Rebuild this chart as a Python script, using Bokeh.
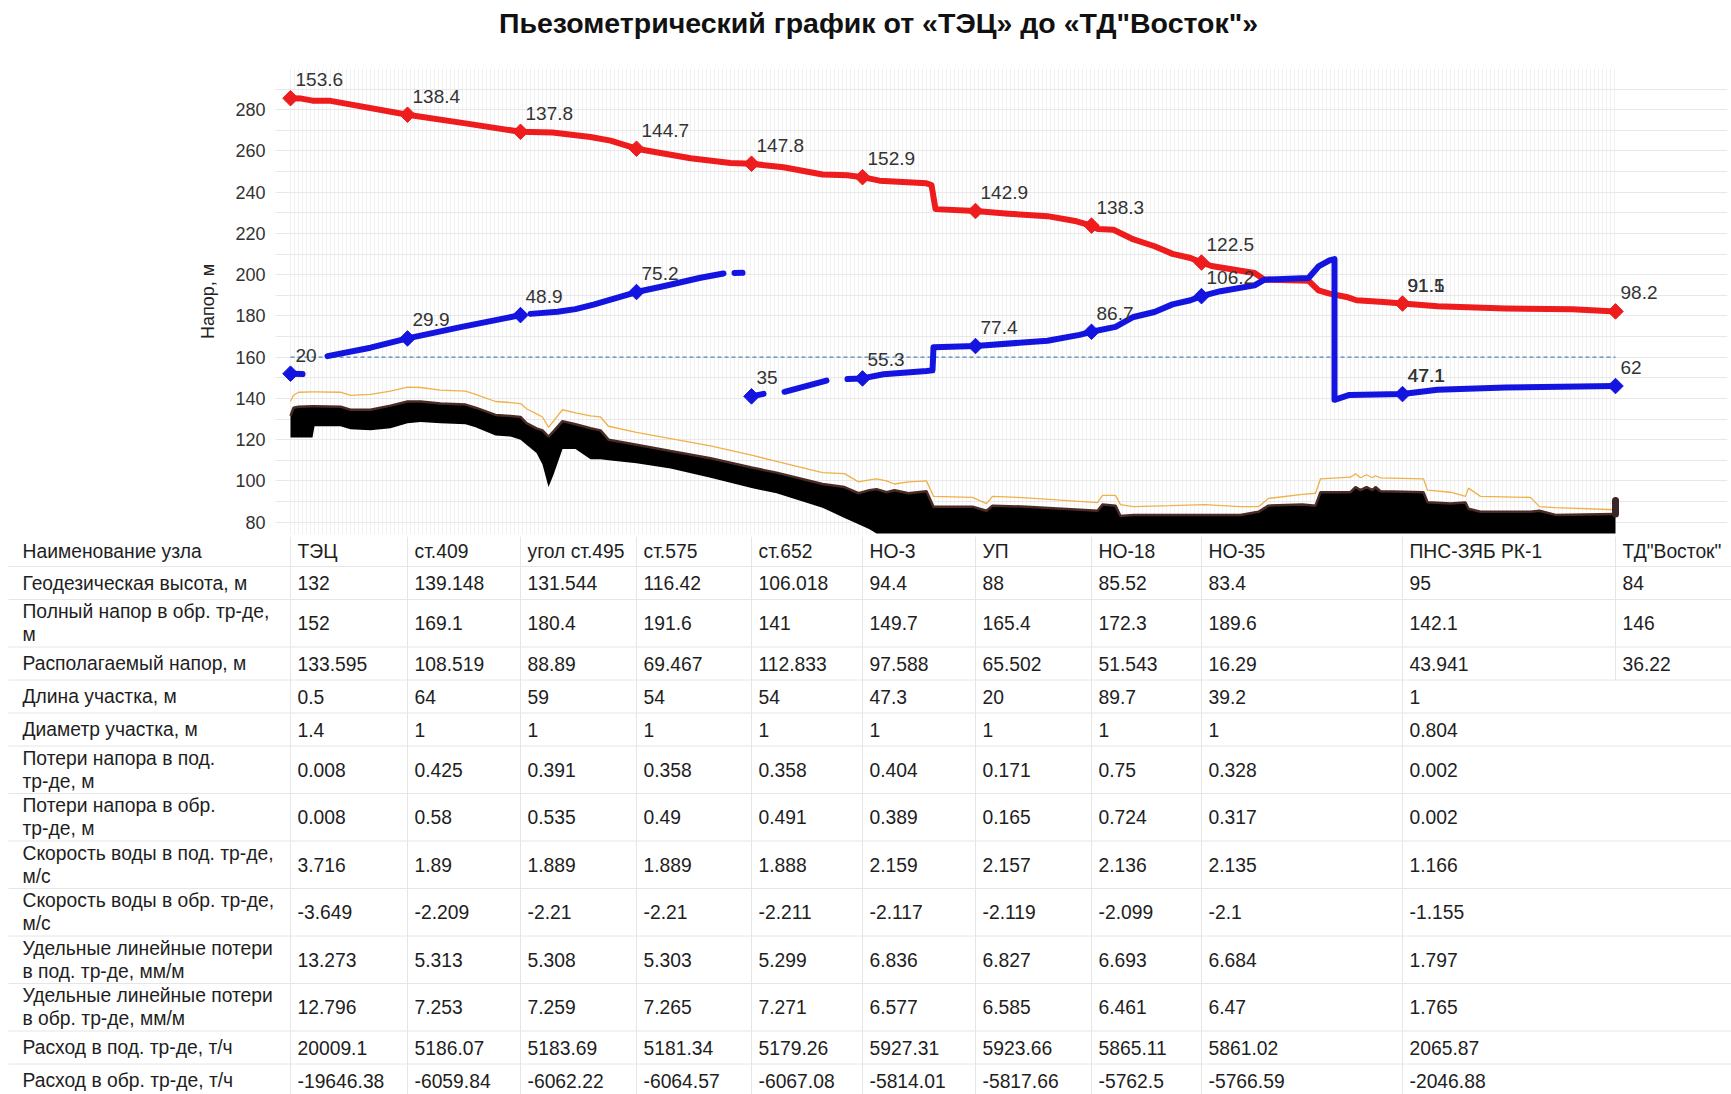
import math
from bokeh.plotting import figure
from bokeh.models import Range1d, FixedTicker, Label
from bokeh.embed import file_html
from bokeh.resources import INLINE
from bokeh.core.properties import value

TITLE = "Пьезометрический график от «ТЭЦ» до «ТД\"Восток\"»"
Y_LABEL = "Напор, м"

# ---- nodes ----
nodes = ["ТЭЦ", "ст.409", "угол ст.495", "ст.575", "ст.652", "НО-3", "УП",
         "НО-18", "НО-35", "ПНС-ЗЯБ РК-1", "ТД\"Восток\""]
node_x = [0, 117, 230, 346, 461, 572, 685, 801, 911, 1112, 1325]
supply_head = [285.6, 277.6, 269.3, 261.1, 253.8, 247.3, 230.9, 223.8, 205.9, 186.0, 182.2]
return_head = [152, 169.1, 180.4, 191.6, 141, 149.7, 165.4, 172.3, 189.6, 142.1, 146]
supply_labels = ["153.6", "138.4", "137.8", "144.7", "147.8", "152.9", "142.9", "138.3", "122.5", "91.5", "98.2"]
return_labels = ["20", "29.9", "48.9", "75.2", "35", "55.3", "77.4", "86.7", "106.2", "47.1", "62"]
overlap_supply_label = "91.1"
overlap_return_label = "47.1"
ref_level = 160

# ---- supply (red) line ----
supply_x = [0, 11, 22, 40, 117, 175, 230, 262, 300, 320, 346, 400, 440, 461, 493, 532, 557, 572,
            589, 636, 641, 645, 685, 718, 757, 786, 801, 807, 823, 843, 864, 882, 900, 911, 921,
            964, 974, 1018, 1028, 1039, 1056, 1066, 1093, 1112, 1147, 1215, 1282, 1325]
supply_y = [285.6, 285.4, 284.4, 284.3, 277.6, 273.4, 269.3, 269.0, 266.8, 265.0, 261.1, 256.5,
            254.2, 253.8, 252.1, 248.6, 248.2, 247.3, 245.6, 244.3, 243.5, 231.8, 230.9, 229.6,
            228.4, 225.9, 223.8, 222.2, 221.8, 217.1, 213.8, 210.1, 208.1, 205.9, 204.2, 200.8,
            197.6, 197.1, 192.4, 190.8, 189.2, 187.6, 186.8, 186.0, 184.7, 183.6, 183.2, 182.2]

# ---- return (blue) line, in broken pieces ----
return_pieces_x = [
    [0, 12],
    [37, 80, 117, 170, 230],
    [240, 267, 285, 303, 321, 346, 374, 410, 433],
    [444, 452],
    [461, 473],
    [494, 536],
    [557, 572, 593, 636, 642, 643, 660, 685, 757, 789, 801, 825, 843, 864, 882, 900, 911,
     930, 964, 974, 1018, 1028, 1039, 1044, 1044, 1059, 1112, 1147, 1215, 1325],
]
return_pieces_y = [
    [152, 151.8],
    [160.5, 164.6, 169.1, 174.6, 180.4],
    [181.0, 182.0, 183.3, 185.5, 188.0, 191.6, 194.5, 198.5, 200.6],
    [200.8, 200.9],
    [141, 142.2],
    [143.2, 148.6],
    [149.4, 149.7, 151.7, 153.3, 153.6, 164.8, 165.0, 165.4, 168.0, 170.8, 172.3, 174.7, 179.5,
     181.9, 185.6, 187.6, 189.6, 192.0, 194.8, 197.6, 198.4, 204.0, 206.9, 207.6, 139.3, 141.7,
     142.1, 144.2, 145.3, 146.0],
]

# ---- terrain ----
terrain_x = [0, 3, 8, 22, 24, 50, 60, 80, 100, 117, 130, 150, 175, 185, 205, 220, 230, 236, 246,
             252, 258, 263, 272, 285, 300, 310, 318, 346, 380, 420, 461, 486, 532, 554, 568, 579,
             586, 596, 604, 618, 636, 643, 682, 696, 702, 736, 807, 812, 825, 830, 843, 880, 914,
             950, 968, 978, 1012, 1025, 1030, 1060, 1065, 1070, 1076, 1082, 1085, 1090, 1133,
             1137, 1160, 1175, 1178, 1190, 1240, 1249, 1265, 1325]
ground_top = [131.5, 135.5, 136, 136.2, 136.2, 136, 134.5, 134.5, 136.5, 138.5, 138.5, 137.5, 137,
              135.5, 132, 131.5, 131, 128, 125.5, 124.5, 121.5, 124, 129, 127.5, 125.5, 124.5, 120,
              117.5, 114.5, 111, 106.5, 104, 98.5, 97, 94, 95.5, 96, 94.5, 95.5, 94, 95, 87.5, 87.5,
              85.5, 88, 87.5, 85.5, 88.5, 88, 83, 83.5, 83.5, 83.5, 83.5, 85, 88, 88.5, 88, 94.5,
              94.5, 97, 95.5, 97, 95.5, 97, 95, 94.5, 89.7, 89, 89.5, 86.5, 85, 85, 85.5, 83.5, 84]
ground_bottom = [121, 121, 121, 121, 126.5, 126.5, 125, 124.5, 125.5, 128, 128.5, 128, 127.5, 126,
                 122, 121.5, 120, 117.5, 113.5, 108, 97, 103, 115.5, 115.5, 110.5, 110.5, 110,
                 108.5, 106, 101.5, 96.5, 94, 87, 82, 79, 76.5, 74.5, 74.5, 74.5, 74.5, 74.5, 74.5,
                 74.5, 74.5, 74.5, 74.5, 74.5, 74.5, 74.5, 74.5, 74.5, 74.5, 74.5, 74.5, 74.5,
                 74.5, 74.5, 74.5, 74.5, 74.5, 74.5, 74.5, 74.5, 74.5, 74.5, 74.5, 74.5, 74.5,
                 74.5, 74.5, 74.5, 74.5, 74.5, 74.5, 74.5, 74.5]
pipe_top = [138.5, 141.5, 143, 143.2, 143.2, 143, 141.5, 142, 143.5, 145.5, 145.3, 144, 143.5, 142,
            138.5, 138, 137.5, 135, 132.5, 131, 126, 129, 134.5, 133, 131.5, 131, 126.5, 123.5,
            120.5, 117, 112.5, 109.5, 104, 103.5, 99.5, 100.5, 101, 100, 98.5, 99.5, 100, 92.5,
            92, 89, 92.5, 91.8, 89.5, 93, 93, 88.5, 87.5, 88, 88.5, 87.5, 87.5, 91.5, 93.5, 94,
            101, 101.8, 103.5, 101.5, 103, 101.5, 102.5, 101.5, 101, 95.5, 94.5, 92.5, 96.5, 92.5,
            92, 87.5, 87, 86]
end_cap_y = [84, 90.5]

# ---- table ----
row_labels = ["Наименование узла", "Геодезическая высота, м", "Полный напор в обр. тр-де,\nм",
              "Располагаемый напор, м", "Длина участка, м", "Диаметр участка, м",
              "Потери напора в под.\nтр-де, м", "Потери напора в обр.\nтр-де, м",
              "Скорость воды в под. тр-де,\nм/с", "Скорость воды в обр. тр-де,\nм/с",
              "Удельные линейные потери\nв под. тр-де, мм/м", "Удельные линейные потери\nв обр. тр-де, мм/м",
              "Расход в под. тр-де, т/ч", "Расход в обр. тр-де, т/ч"]
geo_height = [132, 139.148, 131.544, 116.42, 106.018, 94.4, 88, 85.52, 83.4, 95, 84]
full_head_return = [152, 169.1, 180.4, 191.6, 141, 149.7, 165.4, 172.3, 189.6, 142.1, 146]
available_head = [133.595, 108.519, 88.89, 69.467, 112.833, 97.588, 65.502, 51.543, 16.29, 43.941, 36.22]
section_length = [0.5, 64, 59, 54, 54, 47.3, 20, 89.7, 39.2, 1]
section_diam = [1.4, 1, 1, 1, 1, 1, 1, 1, 1, 0.804]
loss_supply = [0.008, 0.425, 0.391, 0.358, 0.358, 0.404, 0.171, 0.75, 0.328, 0.002]
loss_return = [0.008, 0.58, 0.535, 0.49, 0.491, 0.389, 0.165, 0.724, 0.317, 0.002]
vel_supply = [3.716, 1.89, 1.889, 1.889, 1.888, 2.159, 2.157, 2.136, 2.135, 1.166]
vel_return = [-3.649, -2.209, -2.21, -2.21, -2.211, -2.117, -2.119, -2.099, -2.1, -1.155]
spec_supply = [13.273, 5.313, 5.308, 5.303, 5.299, 6.836, 6.827, 6.693, 6.684, 1.797]
spec_return = [12.796, 7.253, 7.259, 7.265, 7.271, 6.577, 6.585, 6.461, 6.47, 1.765]
flow_supply = [20009.1, 5186.07, 5183.69, 5181.34, 5179.26, 5927.31, 5923.66, 5865.11, 5861.02, 2065.87]
flow_return = [-19646.38, -6059.84, -6062.22, -6064.57, -6067.08, -5814.01, -5817.66, -5762.5, -5766.59, -2046.88]

table_values = [nodes, geo_height, full_head_return, available_head, section_length, section_diam,
                loss_supply, loss_return, vel_supply, vel_return, spec_supply, spec_return,
                flow_supply, flow_return]

# ---------------- layout constants ----------------
FONT = "Liberation Sans"
RED = "#ee1c1c"
BLUE = "#1414e0"
W = 1731
TITLE_H = 44
CH = 492
FRAME_L, FRAME_R, FRAME_T, FRAME_B = 275, 4, 24, 2

# ---------------- title ----------------
tf = figure(width=W, height=TITLE_H, x_range=Range1d(0, 1), y_range=Range1d(0, 1),
            toolbar_location=None, output_backend="svg", x_axis_type=None, y_axis_type=None,
            min_border=0)
tf.outline_line_color = None
tf.grid.visible = False
tf.add_layout(Label(x=878, y=TITLE_H / 2, x_units="screen", y_units="screen", text=TITLE,
                    text_align="center", text_baseline="middle", text_font=FONT,
                    text_font_size="28.5px", text_font_style="bold", text_color="#111111"))

# ---------------- chart ----------------
p = figure(width=W, height=CH, x_range=Range1d(-15, 1437), y_range=Range1d(74, 300),
           toolbar_location=None, output_backend="svg", x_axis_location=None,
           min_border_left=FRAME_L, min_border_right=FRAME_R, min_border_top=FRAME_T,
           min_border_bottom=FRAME_B)
p.outline_line_color = None
p.background_fill_color = "white"

p.yaxis.ticker = FixedTicker(ticks=list(range(80, 281, 20)))
p.yaxis.axis_line_color = None
p.yaxis.major_tick_line_color = None
p.yaxis.minor_tick_line_color = None
p.yaxis.major_label_text_font = FONT
p.yaxis.major_label_text_font_size = "18px"
p.yaxis.major_label_text_color = "#333333"
p.yaxis.major_label_standoff = 4
p.yaxis.axis_label = Y_LABEL
p.yaxis.axis_label_text_font = FONT
p.yaxis.axis_label_text_font_size = "18px"
p.yaxis.axis_label_text_font_style = "normal"
p.yaxis.axis_label_text_color = "#222222"
p.yaxis.axis_label_standoff = 14

p.ygrid.ticker = FixedTicker(ticks=list(range(80, 301, 10)))
p.ygrid.grid_line_color = "#e8e8e8"
p.xgrid.ticker = FixedTicker(ticks=list(range(node_x[0], node_x[-1] + 1, 4)))
p.xgrid.grid_line_color = "#f0f0f0"

# terrain
p.varea(x=terrain_x, y1=ground_bottom, y2=ground_top, fill_color="black")
p.line(terrain_x, ground_top, line_color="#4a2a24", line_width=2.5)
p.line(terrain_x, pipe_top, line_color="#f0b04a", line_width=1.3)
p.line([node_x[-1], node_x[-1]], end_cap_y, line_color="#3a2626", line_width=7, line_cap="round")

# reference level
p.line([node_x[0], node_x[-1]], [ref_level, ref_level], line_color="#4f86bf",
       line_width=1.2, line_dash="4 3")

# lines
p.line(supply_x, supply_y, line_color=RED, line_width=6, line_join="round", line_cap="round")
bx, by = [], []
for xs, ys in zip(return_pieces_x, return_pieces_y):
    if bx:
        bx.append(float("nan"))
        by.append(float("nan"))
    bx.extend(xs)
    by.extend(ys)
p.line(bx, by, line_color=BLUE, line_width=6, line_join="round", line_cap="round")

# markers
p.scatter(node_x, supply_head, marker="square", angle=math.pi / 4, size=11,
          fill_color=RED, line_color=RED)
p.scatter(node_x, return_head, marker="square", angle=math.pi / 4, size=11,
          fill_color=BLUE, line_color=BLUE)

# labels
lab_kw = dict(x_offset=5, y_offset=-12, text_baseline="bottom", text_align="left",
              text_font=value(FONT), text_font_size="19px", text_color="#333333")
p.text(x=node_x, y=supply_head, text=supply_labels, **lab_kw)
p.text(x=node_x, y=return_head, text=return_labels, **lab_kw)
p.text(x=[node_x[9]], y=[supply_head[9]], text=[overlap_supply_label], **lab_kw)
p.text(x=[node_x[9] + 0.6], y=[return_head[9]], text=[overlap_return_label], **lab_kw)

# ---------------- table ----------------
TH = 1094 - TITLE_H - CH
t = figure(width=W, height=TH, x_range=Range1d(-290, 1441), y_range=Range1d(TH, 0),
           toolbar_location=None, output_backend="svg", x_axis_type=None, y_axis_type=None,
           min_border=0)
t.outline_line_color = None
t.grid.visible = False

row_h = [30] + [47.5 if "\n" in lab else 33 for lab in row_labels[1:]]
tops = []
acc = 0
for h in row_h:
    tops.append(acc)
    acc += h
centers = [tp + h / 2 for tp, h in zip(tops, row_h)]
bottoms = [tp + h for tp, h in zip(tops, row_h)]

t.segment(x0=[-282] * len(bottoms), y0=bottoms, x1=[1441] * len(bottoms), y1=bottoms,
          line_color="#e6e6e6", line_width=1)
vx = node_x[:10]
t.segment(x0=vx, y0=[0] * len(vx), x1=vx, y1=[TH] * len(vx), line_color="#e6e6e6", line_width=1)
t.segment(x0=[node_x[10]], y0=[0], x1=[node_x[10]], y1=[bottoms[3]], line_color="#e6e6e6", line_width=1)

xs_all, ys_all, tx_all = [], [], []
for r, (lab, vals) in enumerate(zip(row_labels, table_values)):
    xs_all.append(-268)
    ys_all.append(centers[r])
    tx_all.append(lab)
    for c, v in enumerate(vals):
        xs_all.append(node_x[c] + 7)
        ys_all.append(centers[r])
        tx_all.append(str(v))

t.text(x=xs_all, y=ys_all, text=tx_all, text_baseline="middle",
       text_font=value(FONT), text_font_size="19.3px", text_color="#1e1e1e", text_line_height=1.1)

open("out.html", "w").write(file_html([tf, p, t], INLINE))
